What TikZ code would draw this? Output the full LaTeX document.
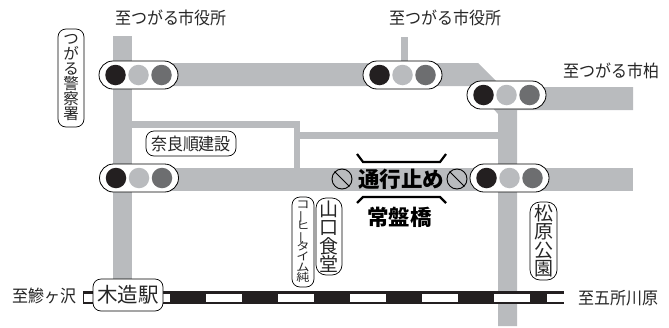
\documentclass[tikz,border=0pt]{standalone}
\usepackage{fontspec}
\newfontfamily\cjk{Noto Sans CJK JP}
\newfontfamily\cjktall{Noto Sans CJK JP}[FakeStretch=0.93]
\newfontfamily\cjkwide{Noto Sans CJK JP}[FakeStretch=1.2]
\newcommand{\cjksize}[1]{\cjktall\fontsize{#1}{#1}\selectfont}
\newcommand{\vbar}{\rotatebox[origin=c]{90}{ー}}
\definecolor{roadc}{HTML}{B9BBBE}
\definecolor{lampa}{HTML}{231F20}
\definecolor{lampc}{HTML}{6D6E70}
\tikzset{
  road/.style={fill=roadc,draw=none},
  pill/.style={draw=black,fill=white,line width=0.8pt,rounded corners=14pt,minimum width=79pt,minimum height=28pt,inner sep=0pt},
  lamp/.style={circle,minimum size=20.5pt,inner sep=0pt,draw=none},
  lab/.style={inner sep=0pt,text=black!85},
  vlab/.style={draw=black,line width=0.7pt,fill=white,rounded corners=8pt,inner sep=0pt,align=center,text=black!85,execute at begin node={\lineskiplimit=-100pt\lineskip=0pt}},
  bracket/.style={line width=2.2pt,line cap=butt},
  nosign/.style={circle,draw=black,line width=0.9pt,minimum size=20pt,inner sep=0pt},
  railwhite/.style={fill=white,draw=none},
}
\begin{document}
\begin{tikzpicture}[x=1pt,y=-1pt]
\useasboundingbox (0,0) rectangle (669,327);
% roads
\fill[road] (113,36) rectangle (132,286);
\fill[road] (130,63) -- (478,63) -- (498,83) -- (517,87) -- (633,87) -- (633,110) -- (517,110) -- (517,326) -- (498,326) -- (498,114) -- (491,106) -- (470,86) -- (130,86) -- cycle;
\fill[road] (401,37) rectangle (408,65);
\fill[road] (132,121) rectangle (300,128);
\fill[road] (294,128) rectangle (300,170);
\fill[road] (300,132) rectangle (498,139);
\fill[road] (130,168) rectangle (633,191);
% railway
\coordinate (railL) at (83,291.5);
\coordinate (railR) at (563,303.5);
\draw[fill=lampa,draw=lampa,line width=0.5pt] (railL) rectangle (railR);
\foreach \x in {62,134,206,278,350,422,494}{
  \pgfmathsetmacro\xend{\x+36}
  \fill[railwhite] (\x,293.5) rectangle (\xend,301.5);
}
\fill[railwhite] (547,293.5) rectangle (563.5,301.5);
\fill[white] (0,288) rectangle (83,310);
\draw[lampa,line width=0.5pt] (83,291.5) rectangle (94,303.5);
% traffic lights
\foreach \n/\cx/\cy in {a/138.5/75,b/402.5/75,c/506.5/95,d/139/178,e/509.5/178}{
  \node[pill] (pill\n) at (\cx,\cy) {};
  \node[lamp,fill=lampa] (red\n) at ([xshift=-23pt]pill\n.center) {};
  \node[lamp,fill=roadc] (mid\n) at (pill\n.center) {};
  \node[lamp,fill=lampc] (grn\n) at ([xshift=23pt]pill\n.center) {};
}
% labels
\node[lab,font=\cjksize{17.2}] (cityA) at (171,18) {至つがる市役所};
\node[lab,font=\cjksize{17.2}] (cityB) at (445.5,18) {至つがる市役所};
\node[lab,font=\cjksize{17.2}] (cityC) at (611.5,71) {至つがる市柏};
\node[lab,font=\cjksize{17.2}] (westT) at (44.5,296) {至鰺ヶ沢};
\node[lab,font=\cjksize{17.2}] (eastT) at (618,298) {至五所川原};
\node[vlab,font=\cjk\fontsize{15.5}{15}\selectfont,minimum width=26pt,minimum height=98pt] (police) at (71,78) {つ\\が\\る\\警\\察\\署};
\node[vlab,font=\cjksize{17.2},minimum width=90pt,minimum height=25pt] (nara) at (191,143.5) {奈良順建設};
\node[vlab,font=\cjk\fontsize{19}{18.5}\selectfont,minimum width=26pt,minimum height=77pt,rounded corners=10pt] (yama) at (329,236.5) {山\\口\\食\\堂};
\node[vlab,font={\cjkwide\fontsize{11}{10.4}\selectfont},minimum width=22pt,minimum height=90pt] (coffee) at (303,242) {コ\\\vbar\\ヒ\\\vbar\\タ\\イ\\ム\\純};
\node[vlab,font=\cjk\fontsize{19}{18.5}\selectfont,minimum width=27pt,minimum height=78pt,rounded corners=10pt] (matsu) at (543.5,241) {松\\原\\公\\園};
\node[vlab,font=\cjk\fontsize{20.5}{20.5}\selectfont,minimum width=70pt,minimum height=32pt] (station) at (128,295) {木造駅};
% closure
\node[lab,font={\cjk\bfseries\fontsize{21.5}{21.5}\selectfont},text=black] (closed) at (401,179) {通行止め};
\node[lab,font={\cjk\bfseries\fontsize{21.5}{21.5}\selectfont},text=black] (bridge) at (399.5,217) {常盤橋};
\node[nosign] (noA) at (342,179) {};
\node[nosign] (noB) at (457,179) {};
\draw[line width=0.9pt] (noA.north west) -- (noA.south east);
\draw[line width=0.9pt] (noB.north west) -- (noB.south east);
\draw[bracket] (357,154) -- (363,162) -- (440,162) -- (446,154);
\draw[bracket] (357,203) -- (363,197) -- (440,197) -- (446,203);
\end{tikzpicture}
\end{document}
